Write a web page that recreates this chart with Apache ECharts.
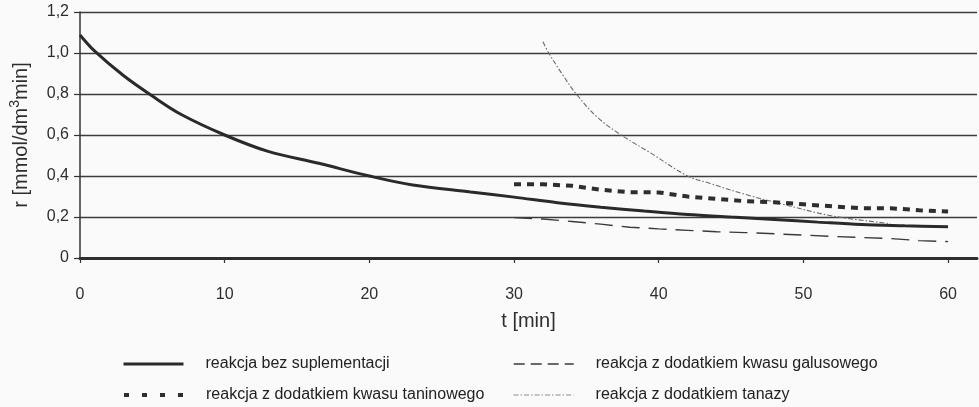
<!DOCTYPE html>
<html>
<head>
<meta charset="utf-8">
<script src="https://cdn.jsdelivr.net/npm/echarts@6/dist/echarts.min.js"></script>
<style>
  html, body { margin: 0; padding: 0; background: #fafafa; }
  #chart { width: 979px; height: 407px; }
</style>
</head>
<body>
<div id="chart"></div>
<script>
// Reaction rate r [mmol/dm3 min] against time t [min]
const xTicks = [0, 10, 20, 30, 40, 50, 60];

const names = [
  'reakcja bez suplementacji',
  'reakcja z dodatkiem kwasu taninowego',
  'reakcja z dodatkiem kwasu galusowego',
  'reakcja z dodatkiem tanazy'
];

// no supplementation
const tBase = [0, 1, 3, 5, 7, 10, 13, 16.5, 20, 23, 27, 30, 33, 36, 39, 42, 45, 48, 51, 54, 57, 60];
const rBase = [1.088, 1.01, 0.89, 0.79, 0.70, 0.60, 0.52, 0.462, 0.40, 0.356, 0.322, 0.297, 0.27, 0.248, 0.229, 0.212, 0.20, 0.188, 0.175, 0.163, 0.157, 0.152];

// tannic acid added
const tTannic = [30, 32, 34, 36, 38, 40, 42, 44, 46, 48, 50, 52, 54, 56, 58, 60];
const rTannic = [0.36, 0.36, 0.352, 0.333, 0.321, 0.32, 0.30, 0.288, 0.277, 0.272, 0.262, 0.252, 0.243, 0.243, 0.233, 0.227];

// gallic acid added
const tGallic = [30, 32, 34, 36, 38, 40, 42, 44, 46, 48, 50, 52, 54, 56, 58, 60];
const rGallic = [0.197, 0.19, 0.178, 0.165, 0.15, 0.142, 0.135, 0.128, 0.124, 0.118, 0.112, 0.105, 0.10, 0.095, 0.085, 0.08];

// tannase added
const tTannase = [32, 32.4, 33.3, 34.3, 35.8, 37.4, 39.4, 42, 43.5, 46, 48.6, 52, 56];
const rTannase = [1.055, 1.0, 0.9, 0.8, 0.684, 0.6, 0.514, 0.40, 0.365, 0.31, 0.262, 0.205, 0.168];

const pairs = (t, r) => t.map((v, i) => [v, r[i]]);

const font = 'Liberation Sans, Arial, sans-serif';
const ink = '#2e2e2e';

const styles = [
  { color: '#2a2a2a', width: 3, type: 'solid' },
  { color: '#2e2e2e', width: 4, type: [7, 6] },
  { color: '#3a3a3a', width: 1.4, type: [18, 9] },
  { color: '#6a6a6a', width: 1.1, type: [5, 2, 1.5, 2] }
];
const legendLine = [
  { color: '#2a2a2a', width: 3, type: 'solid' },
  { color: '#2e2e2e', width: 4, type: [5, 13] },
  { color: '#3a3a3a', width: 1.4, type: [11, 6] },
  { color: '#8a8a8a', width: 1.1, type: [5, 2, 1.5, 2] }
];
// legend slots: [left, top] of each entry
const legendSlots = [[122, 356], [122, 387], [513, 356], [513, 387]];

const data = [pairs(tBase, rBase), pairs(tTannic, rTannic), pairs(tGallic, rGallic), pairs(tTannase, rTannase)];

const chart = echarts.init(document.getElementById('chart'));
chart.setOption({
  backgroundColor: '#fafafa',
  animation: false,
  grid: { left: 78, right: 2, top: 12, bottom: 149, containLabel: false },
  legend: names.map((n, i) => ({
    left: legendSlots[i][0],
    top: legendSlots[i][1],
    padding: 0,
    itemWidth: 60,
    itemHeight: 14,
    itemStyle: { opacity: 0 },
    textStyle: { fontFamily: font, fontSize: 16, color: '#222', padding: [0, 0, 0, 17] },
    selectedMode: false,
    data: [{ name: n, lineStyle: legendLine[i] }]
  })),
  xAxis: {
    type: 'value',
    min: 0, max: 62, interval: 10,
    name: 't [min]',
    nameLocation: 'middle',
    nameGap: 53,
    nameTextStyle: { fontFamily: font, fontSize: 20, color: ink },
    axisLine: { show: true, onZero: false, lineStyle: { color: '#2e2e2e', width: 3 } },
    axisTick: { show: true, length: 5, inside: false, customValues: xTicks, lineStyle: { color: '#333', width: 1.2 } },
    axisLabel: { customValues: xTicks, margin: 29, fontFamily: font, fontSize: 16, color: ink },
    splitLine: { show: false }
  },
  yAxis: {
    type: 'value',
    min: 0, max: 1.2, interval: 0.2,
    name: 'r [mmol/dm{sup|3}min]',
    nameLocation: 'middle',
    nameGap: 46,
    nameRotate: 90,
    nameTextStyle: {
      fontFamily: font, fontSize: 20, color: ink,
      rich: { sup: { fontFamily: font, fontSize: 14, color: ink, verticalAlign: 'bottom', padding: [0, 0, 12, 0] } }
    },
    axisLine: { show: true, lineStyle: { color: '#333', width: 1.5 } },
    axisTick: { show: true, length: 6, lineStyle: { color: '#333', width: 1.2 } },
    axisLabel: {
      margin: 11, fontFamily: font, fontSize: 16, color: ink,
      formatter: v => (v === 0 ? '0' : v.toFixed(1).replace('.', ','))
    },
    splitLine: { show: true, lineStyle: { color: '#3c3c3c', width: 1.4 } }
  },
  series: data.map((d, i) => ({
    name: names[i],
    type: 'line',
    data: d,
    smooth: i === 0 || i === 3 ? 0.35 : false,
    symbol: 'none',
    lineStyle: styles[i],
    itemStyle: { color: styles[i].color },
    z: 4 - i
  }))
});
</script>
</body>
</html>
